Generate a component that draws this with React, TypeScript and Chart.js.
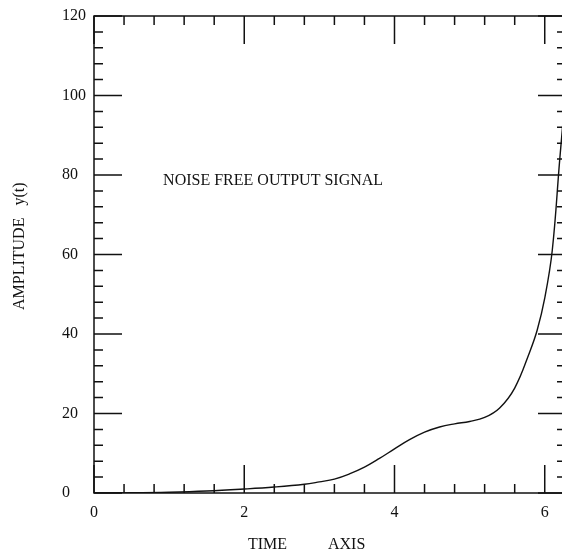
import React, { useEffect, useRef } from "react";
import { Chart, registerables } from "chart.js";

Chart.register(...registerables);

// ---- data ----
const TIME: number[] = [0, 0.5, 1.0, 1.5, 2.0, 2.4, 2.8, 3.0, 3.2, 3.4, 3.6, 3.8, 4.0, 4.2, 4.4, 4.6, 4.8, 5.0, 5.2, 5.4, 5.6, 5.8, 5.9, 6.0, 6.1, 6.2, 6.283];
const AMPLITUDE: number[] = [0, 0.05, 0.2, 0.5, 1.0, 1.5, 2.2, 2.8, 3.5, 4.8, 6.5, 8.7, 11.1, 13.4, 15.3, 16.6, 17.4, 18.0, 19.0, 21.4, 26.4, 35.5, 41, 49, 61, 84, 102];

const X_TICKS: number[] = [0, 2, 4, 6];
const Y_TICKS: number[] = [0, 20, 40, 60, 80, 100, 120];
const X_MINOR: number[] = [0.4, 0.8, 1.2, 1.6, 2.4, 2.8, 3.2, 3.6, 4.4, 4.8, 5.2, 5.6];
const Y_MINOR: number[] = [4, 8, 12, 16, 24, 28, 32, 36, 44, 48, 52, 56, 64, 68, 72, 76, 84, 88, 92, 96, 104, 108, 112, 116];

const X_MAX = 6.283;
const Y_MAX = 120;

const ANNOTATION = "NOISE FREE OUTPUT SIGNAL";
const X_TITLE_WORDS = ["TIME", "AXIS"];
const Y_TITLE = "AMPLITUDE   y(t)";

const FONT = "Liberation Serif";
const INK = "#111";

const framePlugin = {
  id: "plotterFrame",
  afterDraw(chart: any) {
    const { ctx, chartArea, scales } = chart;
    const { left, right, top, bottom } = chartArea;
    const xs = scales.x;
    const ys = scales.y;
    const MAJOR = 28;
    const MINOR = 9;
    ctx.save();
    ctx.strokeStyle = INK;
    ctx.lineWidth = 1.5;
    ctx.strokeRect(left, top, right - left, bottom - top);
    ctx.beginPath();
    const vTick = (v: number, len: number) => {
      const px = xs.getPixelForValue(v);
      ctx.moveTo(px, bottom);
      ctx.lineTo(px, bottom - len);
      ctx.moveTo(px, top);
      ctx.lineTo(px, top + len);
    };
    const hTick = (v: number, len: number) => {
      const py = ys.getPixelForValue(v);
      ctx.moveTo(left, py);
      ctx.lineTo(left + len, py);
      ctx.moveTo(right, py);
      ctx.lineTo(right - len, py);
    };
    X_TICKS.forEach((v) => vTick(v, MAJOR));
    X_MINOR.forEach((v) => vTick(v, MINOR));
    Y_TICKS.forEach((v) => hTick(v, MAJOR));
    Y_MINOR.forEach((v) => hTick(v, MINOR));
    ctx.stroke();

    ctx.fillStyle = INK;
    ctx.font = `16px "${FONT}"`;
    ctx.textAlign = "left";
    ctx.textBaseline = "alphabetic";
    // annotation
    ctx.fillText(ANNOTATION, xs.getPixelForValue(0.92), ys.getPixelForValue(77.6));
    // x title
    ctx.fillText(X_TITLE_WORDS[0], 248, 549);
    ctx.fillText(X_TITLE_WORDS[1], 328, 549);
    // y title
    ctx.translate(23.5, 310);
    ctx.rotate(-Math.PI / 2);
    ctx.fillText(Y_TITLE, 0, 0);
    ctx.restore();
  },
};

export default function App() {
  const ref = useRef<HTMLCanvasElement | null>(null);

  useEffect(() => {
    if (!ref.current) return;
    const chart = new Chart(ref.current, {
      type: "line",
      data: {
        datasets: [
          {
            data: TIME.map((t, i) => ({ x: t, y: AMPLITUDE[i] })),
            borderColor: INK,
            borderWidth: 1.4,
            pointRadius: 0,
            fill: false,
            tension: 0.4,
          },
        ],
      },
      options: {
        animation: false,
        responsive: false,
        devicePixelRatio: 1,
        layout: { padding: { left: 62, top: 16, right: 4, bottom: 0 } },
        plugins: { legend: { display: false }, tooltip: { enabled: false }, title: { display: false } },
        scales: {
          x: {
            type: "linear",
            min: 0,
            max: X_MAX,
            afterBuildTicks: (s: any) => {
              s.ticks = X_TICKS.map((v) => ({ value: v }));
            },
            afterFit: (s: any) => {
              s.height = 57;
            },
            grid: { display: false, drawTicks: false },
            border: { display: false },
            ticks: {
              color: INK,
              font: { family: FONT, size: 16 },
              padding: 10,
              maxRotation: 0,
              autoSkip: false,
            },
          },
          y: {
            type: "linear",
            min: 0,
            max: Y_MAX,
            afterBuildTicks: (s: any) => {
              s.ticks = Y_TICKS.map((v) => ({ value: v }));
            },
            afterFit: (s: any) => {
              s.width = 32;
            },
            grid: { display: false, drawTicks: false },
            border: { display: false },
            ticks: {
              color: INK,
              font: { family: FONT, size: 16 },
              crossAlign: "far",
              autoSkip: false,
            },
          },
        },
      },
      plugins: [framePlugin],
    } as any);
    return () => chart.destroy();
  }, []);

  return (
    <div
      style={{
        position: "fixed",
        left: 0,
        top: 0,
        width: 562,
        height: 550,
        overflow: "hidden",
        background: "#fff",
      }}
    >
      <canvas ref={ref} width={570} height={550} style={{ display: "block" }} />
    </div>
  );
}
